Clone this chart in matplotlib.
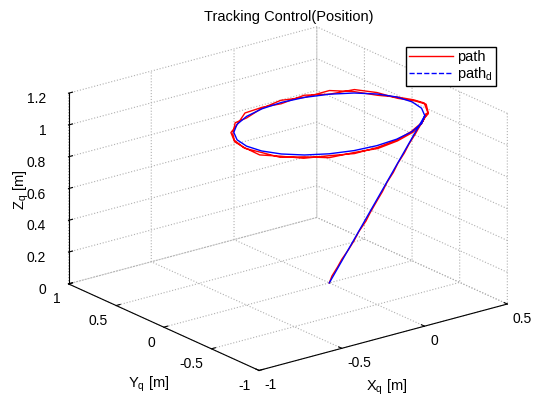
import matplotlib
matplotlib.use("Agg")
import matplotlib.pyplot as plt
from matplotlib.lines import Line2D

plt.rcParams['font.family'] = ['Liberation Sans', 'DejaVu Sans']
plt.rcParams['font.size'] = 10

# desired path (path_d): climb from origin, then circle r=0.5 at z=1
xd = [0.0, 0.433, 0.483, 0.5, 0.483, 0.433, 0.354, 0.25, 0.129, 0.0, -0.129, -0.25, -0.354,
      -0.433, -0.483, -0.5, -0.483, -0.433, -0.354, -0.25, -0.129, 0.0, 0.129, 0.25, 0.354, 0.433]
yd = [0.0, -0.25, -0.129, 0.0, 0.129, 0.25, 0.354, 0.433, 0.483, 0.5, 0.483, 0.433, 0.354,
      0.25, 0.129, 0.0, -0.129, -0.25, -0.354, -0.433, -0.483, -0.5, -0.483, -0.433, -0.354, -0.25]
zd = [0.0, 1.0, 1.0, 1.0, 1.0, 1.0, 1.0, 1.0, 1.0, 1.0, 1.0, 1.0, 1.0,
      1.0, 1.0, 1.0, 1.0, 1.0, 1.0, 1.0, 1.0, 1.0, 1.0, 1.0, 1.0, 1.0]

# actual path (tracked)
xr = [0.000, 0.015, 0.040, 0.058, 0.090, 0.110, 0.135, 0.165, 0.185, 0.215,
      0.240, 0.262, 0.290, 0.312, 0.340, 0.362, 0.390, 0.410, 0.432, 0.450,
      0.507, 0.520, 0.488, 0.431, 0.357, 0.250, 0.132, 0.000, -0.129, -0.255,
      -0.357, -0.446, -0.495, -0.520, -0.497, -0.442, -0.364, -0.253, -0.132, 0.000,
      0.130, 0.248, 0.357, 0.446,
      0.497, 0.510, 0.483, 0.437, 0.352, 0.254, 0.130, 0.000, -0.131, -0.250,
      -0.361, -0.437, -0.497, -0.512, -0.491, -0.446, -0.357, -0.256, -0.131, 0.000,
      0.131, 0.255, 0.354, 0.437]
yr = [0.000, -0.002, -0.018, -0.030, -0.048, -0.066, -0.075, -0.098, -0.108, -0.126,
      -0.140, -0.150, -0.168, -0.178, -0.196, -0.208, -0.225, -0.236, -0.248, -0.258,
      -0.136, 0.000, 0.131, 0.249, 0.357, 0.433, 0.493, 0.505, 0.481, 0.442,
      0.357, 0.258, 0.133, 0.000, -0.133, -0.255, -0.364, -0.437, -0.493, -0.505,
      -0.483, -0.429, -0.357, -0.258,
      -0.133, 0.000, 0.130, 0.253, 0.352, 0.440, 0.483, 0.510, 0.488, 0.433,
      0.361, 0.253, 0.133, 0.000, -0.132, -0.258, -0.357, -0.443, -0.488, -0.510,
      -0.488, -0.442, -0.354, -0.253]
zr = [0.000, 0.040, 0.095, 0.140, 0.200, 0.250, 0.305, 0.370, 0.420, 0.490,
      0.545, 0.600, 0.660, 0.715, 0.775, 0.830, 0.890, 0.935, 0.985, 1.010,
      1.020, 1.000, 0.990, 1.010, 1.020, 1.000, 1.010, 0.990, 1.010, 1.020,
      0.990, 1.000, 0.990, 1.000, 0.980, 0.990, 0.985, 0.990, 0.985, 0.990,
      0.995, 1.000, 1.010, 1.020,
      1.030, 1.010, 1.000, 0.990, 1.010, 1.020, 1.000, 1.010, 1.000, 0.990,
      1.010, 0.990, 1.000, 0.990, 0.995, 0.985, 0.990, 0.980, 0.990, 0.985,
      0.990, 1.000, 1.000, 1.010]

xticks = [-1, -0.5, 0, 0.5]
yticks = [-1, -0.5, 0, 0.5, 1]
zticks = [0, 0.2, 0.4, 0.6, 0.8, 1, 1.2]

fig = plt.figure(figsize=(5.41, 4), dpi=100)
ax = fig.add_subplot(projection='3d', proj_type='ortho')
ax.set_position([0.043, 0.031, 0.96, 0.92])
ax.view_init(elev=20.4, azim=-127.5)
ax.set_box_aspect((1, 1, 0.65), zoom=1.285)

ax.plot(xr, yr, zr, color='red', lw=1.0)
ax.plot(xd, yd, zd, color='blue', lw=1.0)

ax.set_xlim(-1, 0.5)
ax.set_ylim(-1, 1)
ax.set_zlim(0, 1.2)
ax.set_xticks(xticks)
ax.set_yticks(yticks)
ax.set_zticks(zticks)
ax.set_xticklabels(['-1', '-0.5', '0', '0.5'], ha='left')
ax.set_yticklabels(['-1', '-0.5', '0', '0.5', '1'], ha='right')
ax.set_zticklabels(['0', '0.2', '0.4', '0.6', '0.8', '1', '1.2'], ha='right')
ax.tick_params(axis='x', pad=-4)
ax.tick_params(axis='y', pad=-3.5)
ax.tick_params(axis='z', pad=-1)

for axis in (ax.xaxis, ax.yaxis, ax.zaxis):
    axis.set_pane_color((1, 1, 1, 0))
    axis.pane.set_edgecolor('#c8c8c8')
    axis.line.set_color('black')
    axis.line.set_linewidth(0.8)
    axis._axinfo['grid']['color'] = '#b0b0b0'
    axis._axinfo['grid']['linestyle'] = ':'
    axis._axinfo['grid']['linewidth'] = 0.8
    axis._axinfo['tick']['inward_factor'] = 0.0
    axis._axinfo['tick']['outward_factor'] = 0.2

fig.text(0.533, 0.958, 'Tracking Control(Position)', ha='center', va='center', fontsize=10.5)
fig.text(0.04, 0.525, r'Z$_\mathregular{q}$ [m]', rotation=90, ha='center', va='center', fontsize=10.5)
fig.text(0.275, 0.04, r'Y$_\mathregular{q}$ [m]', ha='center', va='center', fontsize=10.5)
fig.text(0.715, 0.033, r'X$_\mathregular{q}$ [m]', ha='center', va='center', fontsize=10.5)

handles = [Line2D([], [], color='red', lw=1.0),
           Line2D([], [], color='blue', lw=1.0, ls='--')]
fig.legend(handles, ['path', r'path$_\mathregular{d}$'], loc='upper left',
           bbox_to_anchor=(406 / 541, 1 - 47 / 400), fancybox=False, edgecolor='black',
           framealpha=1, handlelength=3.0, borderpad=0.2, labelspacing=0.05,
           handletextpad=0.3, borderaxespad=0, fontsize=10.5)

fig.savefig('out.png', dpi=100)
